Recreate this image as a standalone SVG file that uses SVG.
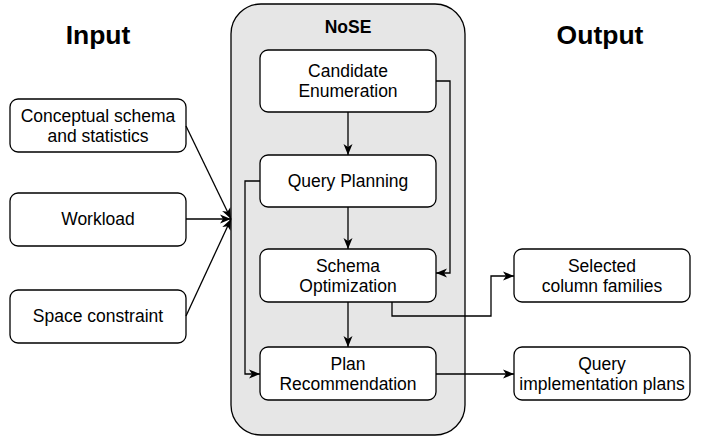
<svg xmlns="http://www.w3.org/2000/svg" width="706" height="439" viewBox="0 0 706 439">
<defs>
<marker id="arr" markerWidth="12" markerHeight="10" refX="11" refY="5" orient="auto" markerUnits="userSpaceOnUse">
<path d="M0,0.5 L11,5 L0,9.5 L3,5 Z" fill="#000"/>
</marker>
<style>
.box{fill:#fff;stroke:#000;stroke-width:1.3}
.cont{fill:#e6e6e6;stroke:#000;stroke-width:1.3}
.t{font-family:"Liberation Sans",Arial,sans-serif;font-size:17.5px;fill:#000;text-anchor:middle}
.h{font-family:"Liberation Sans",Arial,sans-serif;font-weight:bold;fill:#000;text-anchor:middle}
.c{fill:none;stroke:#000;stroke-width:1.3}
</style>
</defs>
<rect width="706" height="439" fill="#fff"/>
<text class="h" x="98" y="44" font-size="26.5">Input</text>
<text class="h" x="600" y="44" font-size="26.5">Output</text>
<g id="nose">
<rect class="cont" x="231" y="4" width="234" height="431" rx="30"/>
<text class="h" x="348" y="33" font-size="17.5">NoSE</text>
</g>
<g id="candidate">
<rect class="box" x="260" y="50" width="176" height="62" rx="8"/>
<text class="t" x="348" y="77">Candidate</text>
<text class="t" x="348" y="97">Enumeration</text>
</g>
<g id="planning">
<rect class="box" x="260" y="155" width="176" height="52" rx="8"/>
<text class="t" x="348" y="187">Query Planning</text>
</g>
<g id="schemaopt">
<rect class="box" x="260" y="249" width="176" height="53" rx="8"/>
<text class="t" x="348" y="272">Schema</text>
<text class="t" x="348" y="292">Optimization</text>
</g>
<g id="planrec">
<rect class="box" x="260" y="347" width="176" height="53" rx="8"/>
<text class="t" x="348" y="370">Plan</text>
<text class="t" x="348" y="390">Recommendation</text>
</g>
<g id="conceptual">
<rect class="box" x="10" y="99" width="176" height="53" rx="8"/>
<text class="t" x="98" y="122">Conceptual schema</text>
<text class="t" x="98" y="142">and statistics</text>
</g>
<g id="workload">
<rect class="box" x="10" y="193" width="176" height="53" rx="8"/>
<text class="t" x="98" y="225">Workload</text>
</g>
<g id="space">
<rect class="box" x="10" y="290" width="176" height="53" rx="8"/>
<text class="t" x="98" y="322">Space constraint</text>
</g>
<g id="selected">
<rect class="box" x="514" y="249" width="176" height="53" rx="8"/>
<text class="t" x="602" y="272">Selected</text>
<text class="t" x="602" y="292">column families</text>
</g>
<g id="queryimpl">
<rect class="box" x="514" y="347" width="176" height="53" rx="8"/>
<text class="t" x="602" y="370">Query</text>
<text class="t" x="602" y="390">implementation plans</text>
</g>
<g id="connectors">
<path class="c" d="M186,126 L231,219" marker-end="url(#arr)"/>
<path class="c" d="M186,219 L231,219" marker-end="url(#arr)"/>
<path class="c" d="M186,316 L231,219" marker-end="url(#arr)"/>
<path class="c" d="M348,112 L348,155" marker-end="url(#arr)"/>
<path class="c" d="M348,207 L348,249" marker-end="url(#arr)"/>
<path class="c" d="M348,302 L348,347" marker-end="url(#arr)"/>
<path class="c" d="M436,81 L450,81 L450,273 L436,273" marker-end="url(#arr)"/>
<path class="c" d="M260,181 L245,181 L245,374 L260,374" marker-end="url(#arr)"/>
<path class="c" d="M392,302 L392,316 L491,316 L491,276 L514,276" marker-end="url(#arr)"/>
<path class="c" d="M436,374 L514,374" marker-end="url(#arr)"/>
</g>
</svg>
